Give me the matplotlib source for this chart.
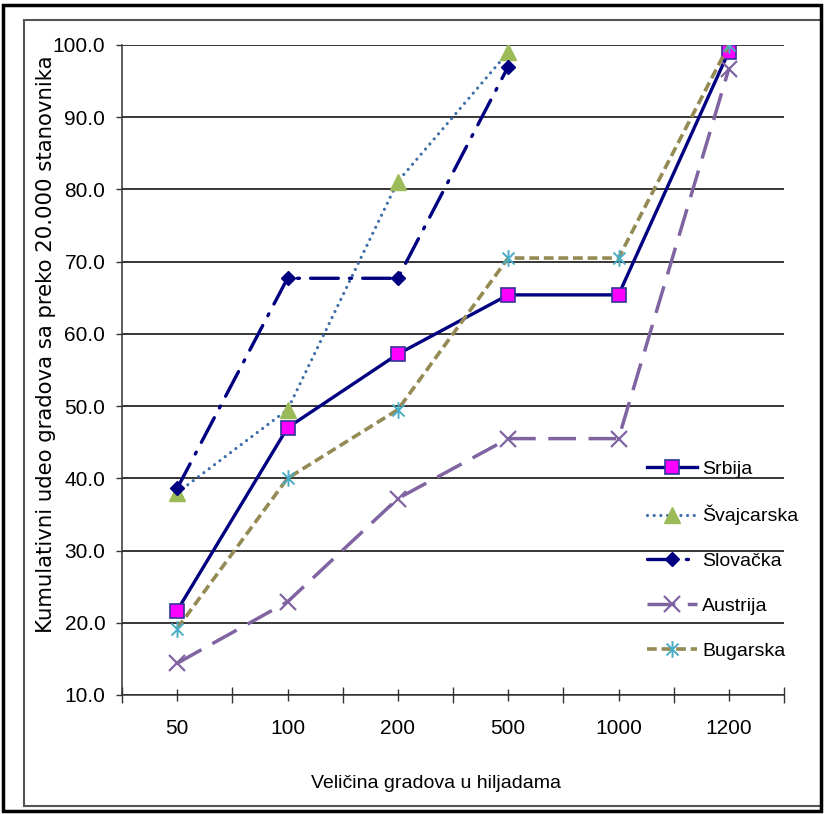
import matplotlib
matplotlib.use("Agg")
import matplotlib.pyplot as plt
from matplotlib.path import Path
from matplotlib.patches import Rectangle

# kumulativni udeo (%) po velicini grada, u hiljadama
velicine = ["50", "100", "200", "500", "1000", "1200"]
srbija = [21.7, 47.0, 57.2, 65.4, 65.4, 99.1]
svajcarska = [38.0, 49.5, 81.1, 99.0]
slovacka = [38.6, 67.7, 67.7, 97.0]
austrija = [14.4, 22.9, 37.2, 45.5, 45.5, 96.7]
bugarska = [19.2, 40.0, 49.5, 70.5, 70.5, 100.0]
y_podeoci = [10, 20, 30, 40, 50, 60, 70, 80, 90, 100]

plt.rcParams["font.family"] = ["Liberation Sans", "DejaVu Sans"]
plt.rcParams["lines.scale_dashes"] = False

# zvezdica: uspravna crta + X
zvezda = Path([(0, -1), (0, 1), (-0.72, -0.72), (0.72, 0.72), (-0.72, 0.72), (0.72, -0.72)],
              [Path.MOVETO, Path.LINETO] * 3)

W, H = 826, 814
fig = plt.figure(figsize=(W / 100, H / 100), dpi=100)
ax = fig.add_axes([122 / W, 1 - 695 / H, (784 - 122) / W, (695 - 45) / H])

x = list(range(len(velicine)))

ax.plot(x, srbija, color="#000080", lw=2.4, marker="s", ms=10,
        mfc="#FF00FF", mec="#333399", mew=1.2, label="Srbija")
ax.plot(x[:len(svajcarska)], svajcarska, color="#3F6FA8", lw=2.3,
        linestyle=(0, (0.01, 4.8)), dash_capstyle="round",
        marker="^", ms=12, mfc="#9BBB59", mec="#9BBB59", label="Švajcarska")
ax.plot(x[:len(slovacka)], slovacka, color="#000080", lw=2.4,
        linestyle=(0, (20, 8, 1.5, 8)), dash_capstyle="round",
        marker="D", ms=7.5, mfc="#000080", mec="#000080", label="Slovačka")
ax.plot(x, austrija, color="#8064A2", lw=2.5, linestyle=(0, (20, 9)),
        marker="x", ms=11, mew=1.6, mec="#8064A2", label="Austrija")
ax.plot(x, bugarska, color="#948A54", lw=2.6, linestyle=(0, (7, 3.5)),
        marker=zvezda, ms=12, mew=1.4, mec="#4BACC6", mfc="none", label="Bugarska")

ax.set_xlim(-0.5, 5.5)
ax.set_ylim(10, 100)
ax.set_yticks(y_podeoci)
ax.set_yticklabels([f"{v:.1f}" for v in y_podeoci])
ax.set_xticks(x)
ax.set_xticklabels(velicine)
ax.set_xticks([i - 0.5 for i in range(len(velicine) + 1)], minor=True)

ax.yaxis.grid(True, color="black", lw=1.1)
ax.set_axisbelow(True)
for s in ["top", "right"]:
    ax.spines[s].set_visible(False)
ax.spines["left"].set_color("#333333")
ax.spines["bottom"].set_color("#333333")
ax.spines["left"].set_linewidth(1.1)
ax.spines["bottom"].set_linewidth(1.1)

ax.tick_params(axis="y", direction="out", length=4, width=1, pad=8,
               labelsize=15, color="#333333")
ax.tick_params(axis="x", which="major", direction="inout", length=9, width=1,
               pad=13, labelsize=15, color="#333333")
ax.tick_params(axis="x", which="minor", direction="inout", length=12, width=1,
               color="#333333")

ax.set_xlabel("Veličina gradova u hiljadama", fontsize=14)
ax.xaxis.set_label_coords(0.474, -0.123)
ax.set_ylabel("Kumulativni udeo gradova sa preko 20.000 stanovnika",
              fontsize=15.3, family=["DejaVu Sans"])
ax.yaxis.set_label_coords(-0.100, 0.540)

leg = fig.legend(loc="upper left", bbox_to_anchor=(647 / W, 1 - 460 / H),
                 frameon=False, fontsize=14, borderpad=0, borderaxespad=0,
                 handlelength=2.55, handletextpad=0.3, labelspacing=1.4,
                 numpoints=1)

# okviri oko grafikona
fig.patches.append(Rectangle((24 / W, 1 - 806 / H), (822 - 24) / W, (806 - 20) / H,
                             transform=fig.transFigure, fill=False,
                             edgecolor="#555555", lw=1.5))
fig.patches.append(Rectangle((3 / W, 1 - 811 / H), (821 - 3) / W, (811 - 5) / H,
                             transform=fig.transFigure, fill=False,
                             edgecolor="black", lw=2.5))

fig.savefig("out.png", dpi=100, facecolor="white")
